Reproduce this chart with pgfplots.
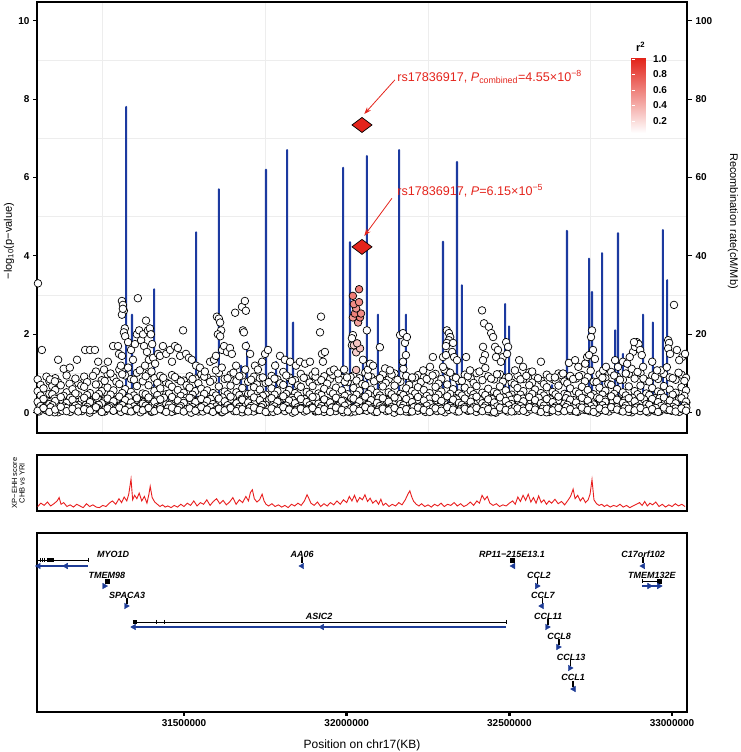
\documentclass[border=0pt]{standalone}
\usepackage{fontspec}
\setmainfont{Liberation Sans}
\usepackage{pgfplots}
\usepackage{pgfplotstable}
\pgfplotsset{compat=1.18}
\usetikzlibrary{arrows.meta}
\newcommand\fs[1]{\fontsize{#1}{#1}\selectfont}
\definecolor{recblue}{RGB}{28,58,160}
\definecolor{snpred}{RGB}{228,36,28}
\definecolor{xpred}{RGB}{232,30,30}
\definecolor{geneblue}{RGB}{30,60,150}

\pgfplotstableread{
x a b c d
31050 0.05 0.28 0.55 0.85
31068 0.12 0.35 0.62 nan
31086 0.02 0.22 0.48 0.80
31104 0.08 0.30 0.58 0.88
31121 0.15 0.40 0.70 nan
31139 0.04 0.25 0.52 0.95
31157 0.10 0.33 0.60 nan
31175 0.03 0.20 0.45 0.75
31193 0.09 0.38 0.66 0.92
31211 0.06 0.27 0.50 nan
31229 0.14 0.42 0.72 1.05
31247 0.02 0.24 0.55 0.83
31265 0.11 0.36 0.64 0.98
31283 0.05 0.29 0.57 0.90
31301 0.13 0.41 0.73 1.10
31319 0.07 0.32 0.60 0.95
31337 0.03 0.26 0.53 0.86
31355 0.10 0.37 0.68 1.02
31373 0.06 0.23 0.49 0.80
31391 0.12 0.39 0.70 1.00
31409 0.04 0.28 0.56 0.88
31427 0.09 0.34 0.62 0.94
31445 0.02 0.21 0.47 0.77
31463 0.13 0.40 0.66 0.96
31481 0.07 0.31 0.58 0.85
31499 0.03 0.25 0.51 0.82
31517 0.11 0.38 0.64 0.93
31535 0.05 0.27 0.55 0.87
31553 0.14 0.35 0.61 0.98
31571 0.08 0.30 0.57 0.90
31589 0.02 0.22 0.50 0.84
31607 0.10 0.36 0.67 1.01
31625 0.06 0.29 0.54 0.86
31643 0.12 0.41 0.69 0.97
31661 0.04 0.24 0.52 0.81
31679 0.09 0.33 0.63 0.95
31697 0.03 0.26 0.48 0.79
31715 0.13 0.39 0.65 0.92
31733 0.07 0.32 0.59 0.88
31751 0.02 0.20 0.46 0.76
31769 0.11 0.37 0.62 0.94
31787 0.05 0.28 0.55 0.85
31805 0.14 0.42 0.71 1.04
31823 0.08 0.31 0.58 0.90
31841 0.03 0.24 0.50 0.83
31859 0.10 0.35 0.66 0.99
31877 0.06 0.27 0.53 0.87
31895 0.12 0.40 0.68 0.96
31913 0.04 0.23 0.49 0.80
31931 0.09 0.34 0.61 0.93
31949 0.02 0.26 0.54 0.86
31967 0.13 0.38 0.64 0.97
31985 0.07 0.30 0.57 0.89
32003 0.03 0.21 0.47 0.78
32021 0.11 0.36 0.63 0.95
32039 0.05 0.29 0.56 0.88
32057 0.14 0.41 0.70 1.02
32075 0.08 0.32 0.59 0.91
32093 0.02 0.25 0.51 0.84
32111 0.10 0.37 0.67 0.98
32129 0.06 0.28 0.52 0.85
32147 0.12 0.39 0.69 1.00
32165 0.04 0.22 0.48 0.79
32183 0.09 0.35 0.62 0.94
32201 0.03 0.27 0.55 0.87
32219 0.13 0.40 0.65 0.96
32237 0.07 0.31 0.58 0.90
32255 0.02 0.23 0.50 0.82
32273 0.11 0.38 0.66 0.99
32291 0.05 0.30 0.54 0.86
32309 0.14 0.42 0.72 1.05
32327 0.08 0.33 0.60 0.92
32345 0.03 0.25 0.49 0.81
32363 0.10 0.36 0.64 0.97
32381 0.06 0.28 0.56 0.88
32399 0.12 0.41 0.68 1.01
32417 0.04 0.24 0.51 0.83
32435 0.09 0.34 0.61 0.93
32453 0.02 0.26 0.53 0.85
32471 0.13 0.39 0.67 0.98
32489 0.07 0.30 0.57 0.89
32507 0.03 0.22 0.46 0.77
32525 0.11 0.37 0.63 0.95
32543 0.05 0.29 0.55 0.86
32561 0.14 0.40 0.70 1.03
32579 0.08 0.32 0.59 0.90
32597 0.02 0.24 0.50 0.82
32615 0.10 0.35 0.65 0.97
32633 0.06 0.27 0.53 0.86
32651 0.12 0.41 0.69 1.00
32669 0.04 0.23 0.48 0.80
32687 0.09 0.33 0.62 0.94
32705 0.03 0.26 0.54 0.87
32723 0.13 0.38 0.66 0.96
32741 0.07 0.31 0.58 0.91
32759 0.02 0.21 0.47 0.79
32777 0.11 0.36 0.64 0.98
32795 0.05 0.28 0.56 0.88
32813 0.14 0.42 0.71 1.04
32831 0.08 0.33 0.60 0.92
32849 0.03 0.25 0.52 0.84
32867 0.10 0.37 0.67 0.99
32885 0.06 0.29 0.55 0.87
32903 0.12 0.40 0.69 1.01
32921 0.04 0.22 0.49 0.81
32939 0.09 0.35 0.63 0.95
32957 0.02 0.27 0.54 0.86
32975 0.13 0.39 0.68 0.99
32993 0.07 0.31 0.59 0.90
33011 0.03 0.24 0.51 0.84
33029 0.11 0.37 0.65 0.97
33043 0.05 0.28 0.57 0.89
}\baseband

\pgfplotstableread{
x e f g
31059 0.17 0.44 0.71
31077 0.06 0.31 0.92
31095 0.19 0.47 0.68
31113 0.01 0.36 0.77
31130 0.16 0.43 1.12
31148 0.07 0.34 0.74
31166 0.18 0.49 0.87
31184 0.05 0.30 0.69
31202 0.15 0.45 0.78
31220 0.09 0.33 0.94
31238 0.20 0.48 0.72
31256 0.03 0.35 0.81
31274 0.17 0.46 1.00
31292 0.08 0.32 0.79
31310 0.19 0.50 0.98
31328 0.04 0.37 1.15
31346 0.16 0.44 0.84
31364 0.07 0.31 1.08
31382 0.18 0.47 0.93
31400 0.02 0.34 1.05
31418 0.15 0.45 0.76
31436 0.08 0.36 0.89
31454 0.20 0.49 0.73
31472 0.05 0.33 0.91
31490 0.17 0.43 0.80
31508 0.09 0.38 0.70
31526 0.14 0.46 0.86
31544 0.03 0.32 0.75
31562 0.18 0.48 0.92
31580 0.06 0.35 0.79
31598 0.16 0.44 1.08
31616 0.01 0.30 1.15
31634 0.19 0.47 0.88
31652 0.08 0.37 1.02
31670 0.15 0.45 0.93
31688 0.04 0.33 1.10
31706 0.17 0.49 0.84
31724 0.07 0.36 0.72
31742 0.20 0.43 0.90
31760 0.02 0.31 0.78
31778 0.16 0.46 0.87
31796 0.09 0.34 0.75
31814 0.18 0.48 0.95
31832 0.05 0.38 0.81
31850 0.14 0.44 0.70
31868 0.08 0.32 0.89
31886 0.19 0.47 0.77
31904 0.03 0.35 0.92
31922 0.17 0.45 0.83
31940 0.06 0.30 0.74
31958 0.15 0.49 0.96
31976 0.09 0.36 0.85
31994 0.18 0.43 0.79
32012 0.01 0.33 0.91
32030 0.16 0.46 0.82
32048 0.07 0.37 0.73
32066 0.20 0.48 0.94
32084 0.04 0.31 0.80
32102 0.17 0.44 0.88
32120 0.08 0.34 0.76
32138 0.15 0.47 0.97
32156 0.05 0.38 0.84
32174 0.19 0.45 1.12
32192 0.02 0.32 0.71
32210 0.16 0.49 0.90
32228 0.09 0.35 0.78
32246 0.18 0.43 0.86
32264 0.06 0.36 0.95
32282 0.14 0.46 0.74
32300 0.03 0.30 1.10
32318 0.17 0.48 1.02
32336 0.08 0.37 0.89
32354 0.20 0.44 0.81
32372 0.05 0.33 0.93
32390 0.15 0.47 0.76
32408 0.07 0.34 1.05
32426 0.18 0.45 1.14
32444 0.01 0.38 0.87
32462 0.16 0.49 0.98
32480 0.09 0.31 0.79
32498 0.19 0.43 0.91
32516 0.04 0.36 0.72
32534 0.17 0.46 0.85
32552 0.06 0.32 0.94
32570 0.15 0.48 0.77
32588 0.08 0.35 0.88
32606 0.18 0.44 0.73
32624 0.02 0.37 0.90
32642 0.16 0.47 0.82
32660 0.09 0.33 0.96
32678 0.20 0.45 0.75
32696 0.05 0.30 0.86
32714 0.14 0.49 0.93
32732 0.07 0.36 0.80
32750 0.17 0.43 1.07
32768 0.03 0.34 0.78
32786 0.19 0.46 0.89
32804 0.08 0.38 0.74
32822 0.15 0.48 0.95
32840 0.06 0.31 0.84
32858 0.18 0.44 1.00
32876 0.01 0.35 1.12
32894 0.16 0.47 1.04
32912 0.09 0.32 0.87
32930 0.20 0.45 0.79
32948 0.04 0.37 0.92
32966 0.17 0.49 1.08
32984 0.07 0.33 1.16
33002 0.15 0.46 0.88
33020 0.05 0.36 1.02
33038 0.18 0.43 0.81
}\basebandb

\pgfplotstableread{
x h i
31054 0.03 0.21
31066 0.11 0.33
31078 0.06 0.17
31090 0.14 0.28
31102 0.01 0.36
31114 0.09 0.19
31126 0.05 0.31
31138 0.12 0.24
31150 0.02 0.38
31162 0.08 0.15
31174 0.13 0.27
31186 0.04 0.34
31198 0.10 0.20
31210 0.00 0.30
31222 0.07 0.16
31234 0.12 0.37
31246 0.03 0.23
31258 0.09 0.32
31270 0.14 0.18
31282 0.05 0.29
31294 0.11 0.35
31306 0.02 0.14
31318 0.08 0.26
31330 0.13 0.39
31342 0.04 0.21
31354 0.10 0.33
31366 0.01 0.17
31378 0.07 0.28
31390 0.12 0.36
31402 0.03 0.19
31414 0.09 0.31
31426 0.14 0.24
31438 0.05 0.38
31450 0.11 0.15
31462 0.02 0.27
31474 0.08 0.34
31486 0.13 0.20
31498 0.04 0.30
31510 0.10 0.16
31522 0.00 0.37
31534 0.07 0.23
31546 0.12 0.32
31558 0.03 0.18
31570 0.09 0.29
31582 0.14 0.35
31594 0.05 0.14
31606 0.11 0.26
31618 0.02 0.39
31630 0.08 0.21
31642 0.13 0.33
31654 0.04 0.17
31666 0.10 0.28
31678 0.01 0.36
31690 0.07 0.19
31702 0.12 0.31
31714 0.03 0.24
31726 0.09 0.38
31738 0.14 0.15
31750 0.05 0.27
31762 0.11 0.34
31774 0.02 0.20
31786 0.08 0.30
31798 0.13 0.16
31810 0.04 0.37
31822 0.10 0.23
31834 0.00 0.32
31846 0.07 0.18
31858 0.12 0.29
31870 0.03 0.35
31882 0.09 0.14
31894 0.14 0.26
31906 0.05 0.39
31918 0.11 0.21
31930 0.02 0.33
31942 0.08 0.17
31954 0.13 0.28
31966 0.04 0.36
31978 0.10 0.19
31990 0.01 0.31
32002 0.07 0.24
32014 0.12 0.38
32026 0.03 0.15
32038 0.09 0.27
32050 0.14 0.34
32062 0.05 0.20
32074 0.11 0.30
32086 0.02 0.16
32098 0.08 0.37
32110 0.13 0.23
32122 0.04 0.32
32134 0.10 0.18
32146 0.00 0.29
32158 0.07 0.35
32170 0.12 0.14
32182 0.03 0.26
32194 0.09 0.39
32206 0.14 0.21
32218 0.05 0.33
32230 0.11 0.17
32242 0.02 0.28
32254 0.08 0.36
32266 0.13 0.19
32278 0.04 0.31
32290 0.10 0.24
32302 0.01 0.38
32314 0.07 0.15
32326 0.12 0.27
32338 0.03 0.34
32350 0.09 0.20
32362 0.14 0.30
32374 0.05 0.16
32386 0.11 0.37
32398 0.02 0.23
32410 0.08 0.32
32422 0.13 0.18
32434 0.04 0.29
32446 0.10 0.35
32458 0.00 0.14
32470 0.07 0.26
32482 0.12 0.39
32494 0.03 0.21
32506 0.09 0.33
32518 0.14 0.17
32530 0.05 0.28
32542 0.11 0.36
32554 0.02 0.19
32566 0.08 0.31
32578 0.13 0.24
32590 0.04 0.38
32602 0.10 0.15
32614 0.01 0.27
32626 0.07 0.34
32638 0.12 0.20
32650 0.03 0.30
32662 0.09 0.16
32674 0.14 0.37
32686 0.05 0.23
32698 0.11 0.32
32710 0.02 0.18
32722 0.08 0.29
32734 0.13 0.35
32746 0.04 0.14
32758 0.10 0.26
32770 0.00 0.39
32782 0.07 0.21
32794 0.12 0.33
32806 0.03 0.17
32818 0.09 0.28
32830 0.14 0.36
32842 0.05 0.19
32854 0.11 0.31
32866 0.02 0.24
32878 0.08 0.38
32890 0.13 0.15
32902 0.04 0.27
32914 0.10 0.34
32926 0.01 0.20
32938 0.07 0.30
32950 0.12 0.16
32962 0.03 0.37
32974 0.09 0.23
32986 0.14 0.32
32998 0.05 0.18
33010 0.11 0.29
33022 0.02 0.35
33034 0.08 0.14
33044 0.13 0.26
}\basebandc

\pgfplotstableread{
x y
31051 3.30
31063 1.60
31088 0.85
31103 0.80
31113 1.35
31149 1.15
31171 1.35
31196 1.60
31211 1.60
31226 1.60
31236 1.30
31254 1.10
31266 1.30
31282 1.70
31297 1.70
31300 1.50
31306 1.20
31309 2.85
31312 2.75
31315 2.60
31309 2.50
31312 2.65
31318 2.15
31315 2.05
31319 1.95
31309 1.45
31328 1.80
31337 1.60
31343 1.35
31358 2.92
31349 1.75
31355 2.00
31362 2.10
31368 1.85
31374 2.00
31377 1.70
31383 2.35
31389 2.10
31395 2.15
31398 2.00
31402 1.75
31386 1.55
31392 1.35
31380 1.20
31405 1.40
31411 1.25
31420 1.50
31426 1.45
31435 1.70
31445 1.50
31457 1.60
31463 1.30
31472 1.70
31481 1.65
31488 1.45
31497 2.10
31506 1.50
31515 1.40
31524 1.35
31537 1.20
31549 1.15
31564 1.05
31580 1.30
31592 1.35
31598 1.45
31601 2.45
31607 2.40
31611 2.30
31614 2.10
31604 2.00
31611 1.95
31617 1.60
31623 1.70
31632 1.55
31641 1.65
31647 1.50
31660 1.20
31657 2.55
31678 2.70
31687 2.85
31690 2.60
31681 2.10
31684 2.05
31690 1.70
31703 1.50
31718 1.20
31727 1.10
31740 1.30
31749 1.50
31758 1.60
31780 1.20
31795 1.45
31810 1.35
31826 1.30
31844 1.20
31856 1.30
31872 1.25
31887 1.30
31903 1.05
31918 2.05
31921 2.45
31924 1.50
31933 1.55
31927 1.30
31949 1.05
31961 1.10
31973 1.00
31992 1.10
32001 0.90
32016 1.72
32019 1.98
32016 1.90
32062 2.10
32050 1.35
32065 1.10
32072 1.25
32102 1.67
32081 1.20
32118 1.13
32133 1.08
32164 1.98
32173 2.03
32179 1.78
32182 1.47
32173 1.30
32185 1.93
32201 0.90
32235 1.08
32256 1.17
32265 1.42
32296 1.42
32296 1.17
32308 2.10
32314 2.03
32318 1.93
32314 1.85
32308 1.78
32305 1.70
32324 1.55
32305 1.47
32327 1.78
32330 1.42
32339 1.34
32367 1.42
32379 1.08
32416 2.61
32422 2.28
32437 2.19
32444 2.03
32450 1.93
32419 1.68
32425 1.47
32419 1.34
32456 1.68
32465 1.60
32480 1.42
32459 1.42
32474 1.30
32490 1.80
32496 1.68
32493 1.50
32517 1.08
32530 1.34
32542 1.17
32597 1.30
32570 1.05
32640 0.90
32665 1.00
32683 1.27
32702 1.34
32712 1.17
32739 1.42
32733 1.25
32754 2.10
32751 1.93
32757 1.60
32745 1.47
32763 1.37
32788 1.08
32797 1.17
32825 1.34
32834 1.17
32849 1.30
32880 1.55
32886 1.68
32892 1.80
32897 1.75
32870 1.42
32902 1.60
32907 1.47
32862 1.25
32883 1.80
32911 1.17
32939 1.30
32954 1.08
32988 1.85
32991 1.78
32988 1.64
32994 1.50
33006 2.75
33015 1.60
33031 1.42
33040 1.50
33022 1.34
}\extras

\pgfplotstableread{
x y r
32029 1.09 0.30
32029 1.54 0.25
32041 1.64 0.30
32022 1.72 0.25
32032 1.77 0.30
32035 2.30 0.45
32019 2.43 0.50
32041 2.43 0.60
32025 2.53 0.60
32044 2.53 0.55
32029 2.66 0.50
32022 2.77 0.55
32038 2.82 0.55
32019 2.98 0.62
32038 3.15 0.62
}\ldsnps

\pgfplotstableread{
x y
31048 3
31100 2
31200 4
31300 3
31322 2
31322 78
31322 2
31340 3
31340 25
31340 3
31408 4
31408 31.5
31408 4
31537 3
31537 46
31537 3
31607 2
31607 57
31607 2
31675 3
31675 12
31675 3
31694 2
31694 18
31694 2
31752 3
31752 62
31752 3
31783 2
31783 13
31783 2
31817 3
31817 67
31817 3
31835 2
31835 23
31835 2
31989 3
31989 62.5
31989 3
32010 2
32010 43.5
32010 2
32050 3
32050 13.5
32050 3
32062 2
32062 65.5
32062 2
32096 3
32096 25
32096 3
32161 2
32161 67
32161 2
32182 3
32182 25
32182 3
32296 2
32296 43.6
32296 2
32318 3
32318 10
32318 3
32339 2
32339 64
32339 2
32354 3
32354 32.5
32354 3
32487 2
32487 27.7
32487 2
32499 3
32499 22
32499 3
32631 2
32631 7
32631 2
32677 3
32677 46.4
32677 3
32745 2
32745 39.3
32745 2
32754 3
32754 30.8
32754 3
32785 2
32785 40.7
32785 2
32825 3
32825 21
32825 3
32834 2
32834 45.8
32834 2
32849 3
32849 15
32849 3
32911 2
32911 25
32911 2
32941 3
32941 23
32941 3
32972 2
32972 46.6
32972 2
32985 3
32985 33.8
32985 3
33046 2
}\recomb

\pgfplotstableread{
x y
31050 0.08
31060 0.14
31070 0.10
31080 0.16
31090 0.09
31100 0.13
31110 0.18
31116 0.24
31122 0.12
31130 0.15
31140 0.08
31150 0.11
31160 0.07
31170 0.12
31180 0.09
31190 0.06
31200 0.13
31210 0.08
31220 0.11
31230 0.07
31240 0.06
31250 0.10
31260 0.08
31270 0.14
31280 0.18
31290 0.12
31300 0.22
31308 0.15
31316 0.25
31324 0.18
31330 0.30
31337 0.57
31342 0.20
31348 0.28
31355 0.22
31362 0.32
31370 0.18
31378 0.26
31386 0.14
31392 0.30
31396 0.44
31402 0.24
31410 0.16
31418 0.12
31426 0.08
31434 0.11
31442 0.07
31450 0.09
31460 0.06
31470 0.10
31480 0.07
31490 0.12
31500 0.08
31510 0.14
31520 0.10
31530 0.18
31540 0.09
31550 0.15
31560 0.12
31570 0.20
31580 0.10
31590 0.17
31600 0.22
31610 0.13
31620 0.19
31630 0.11
31640 0.16
31650 0.24
31660 0.12
31670 0.20
31680 0.15
31690 0.26
31698 0.18
31704 0.33
31710 0.38
31716 0.22
31724 0.16
31732 0.20
31740 0.30
31746 0.18
31752 0.12
31760 0.09
31770 0.13
31780 0.08
31790 0.11
31800 0.07
31810 0.10
31820 0.06
31830 0.12
31840 0.09
31850 0.14
31860 0.10
31870 0.18
31878 0.29
31884 0.22
31890 0.14
31900 0.10
31910 0.16
31920 0.08
31930 0.13
31940 0.09
31950 0.15
31960 0.11
31970 0.18
31980 0.12
31990 0.20
32000 0.15
32008 0.26
32016 0.18
32024 0.28
32032 0.16
32040 0.24
32048 0.20
32056 0.29
32064 0.17
32072 0.23
32080 0.14
32090 0.19
32098 0.12
32105 0.21
32112 0.10
32120 0.14
32130 0.08
32140 0.12
32150 0.09
32160 0.15
32170 0.11
32180 0.20
32188 0.30
32194 0.36
32200 0.25
32206 0.17
32214 0.12
32222 0.09
32230 0.13
32240 0.08
32250 0.11
32260 0.07
32270 0.12
32280 0.09
32290 0.14
32300 0.08
32310 0.12
32320 0.10
32330 0.15
32340 0.09
32350 0.13
32360 0.08
32370 0.11
32380 0.16
32390 0.10
32400 0.18
32408 0.14
32416 0.28
32424 0.20
32432 0.26
32440 0.14
32450 0.10
32460 0.13
32470 0.08
32480 0.11
32490 0.09
32500 0.14
32510 0.18
32518 0.12
32526 0.25
32534 0.17
32542 0.28
32550 0.19
32558 0.30
32566 0.16
32574 0.24
32582 0.14
32590 0.27
32598 0.15
32606 0.20
32614 0.12
32622 0.18
32630 0.14
32640 0.21
32650 0.13
32660 0.17
32670 0.11
32680 0.19
32688 0.26
32696 0.39
32702 0.22
32710 0.28
32718 0.18
32726 0.24
32734 0.15
32742 0.20
32748 0.30
32754 0.56
32760 0.20
32768 0.13
32776 0.10
32784 0.12
32792 0.08
32800 0.11
32810 0.07
32820 0.10
32830 0.08
32840 0.12
32850 0.07
32860 0.10
32870 0.06
32880 0.09
32890 0.12
32900 0.15
32908 0.10
32916 0.17
32924 0.09
32932 0.14
32940 0.11
32950 0.16
32960 0.08
32970 0.12
32980 0.07
32990 0.11
33000 0.08
33010 0.13
33020 0.09
33030 0.12
33040 0.08
}\xpehh

\pgfplotsset{
  scaled ticks=false,
  wcirc/.style={only marks, mark=*, mark size=3.8pt, mark options={draw=black, fill=white, line width=0.7pt}},
  blk/.style={black, line width=0.9pt},
  blu/.style={geneblue, line width=1.1pt},
  arR/.style={only marks, mark=triangle*, mark size=3.2pt, mark options={rotate=-90, fill=geneblue, draw=geneblue}},
  arL/.style={only marks, mark=triangle*, mark size=3.2pt, mark options={rotate=90, fill=geneblue, draw=geneblue}},
  tk/.style={only marks, mark=|, mark size=2.6pt, mark options={black, line width=1.4pt}},
  bx/.style={only marks, mark=square*, mark size=2.2pt, mark options={black, fill=black}},
}

\begin{document}
\begin{tikzpicture}
\path[use as bounding box] (0pt,0pt) rectangle (741pt,-752pt);

% faint grid
\begin{axis}[at={(37pt,-433pt)}, anchor=south west, scale only axis, width=650pt, height=431pt,
  xmin=31048, xmax=33046, ymin=-0.518, ymax=10.477,
  axis line style={draw=none}, xtick={31250,31750,32250,32750}, ytick={1,3,5,7,9},
  xticklabels={}, yticklabels={}, major tick length=0pt, grid=major,
  grid style={black!7, line width=0.6pt}]
\addplot[draw=none] coordinates {(31500,0)};
\end{axis}

% recombination rate
\begin{axis}[at={(37pt,-433pt)}, anchor=south west, scale only axis, width=650pt, height=431pt,
  xmin=31048, xmax=33046, ymin=-5.18, ymax=104.77,
  axis y line*=right, axis x line=none, xtick=\empty, ytick={0,20,...,100},
  tick align=outside, major tick length=5pt, axis line style={line width=1.3pt},
  tick style={black, line width=1pt}, yticklabel style={font=\bfseries\fs{10}},
  /pgf/number format/assume math mode=true]
\addplot[recblue, line width=2.1pt, line join=round, line cap=round] table[x=x,y=y] {\recomb};
\end{axis}

% association
\begin{axis}[name=main, at={(37pt,-433pt)}, anchor=south west, scale only axis, width=650pt, height=431pt,
  xmin=31048, xmax=33046, ymin=-0.518, ymax=10.477,
  xtick=\empty, ytick={0,2,...,10}, ytick pos=left, tick align=outside, major tick length=4pt,
  axis line style={line width=1.3pt}, tick style={black, line width=1pt},
  yticklabel style={font=\bfseries\fs{10}}, /pgf/number format/assume math mode=true,
  colormap={wr}{rgb255=(255,255,255) rgb255=(226,32,22)},
  point meta min=0.045, point meta max=1.026,
  colorbar,
  colorbar style={at={(parent axis.north west)}, anchor=north west, xshift=586pt, yshift=-55pt,
    scale only axis, width=18pt, height=76pt,
    ytick={0.2,0.4,0.6,0.8,1.0}, yticklabel pos=right,
    yticklabel style={font=\bfseries\fs{10}, /pgf/number format/.cd, fixed, fixed zerofill, precision=1, assume math mode=true},
    major tick length=3pt, tick align=inside, tick style={white, line width=0.6pt},
    axis line style={draw=none},
    title={\bfseries r\textsuperscript{2}}, title style={font=\fs{11}, yshift=-4pt}}]
\addplot[wcirc] table[x=x,y=d] {\baseband};
\addplot[wcirc] table[x=x,y=g] {\basebandb};
\addplot[wcirc] table[x=x,y=c] {\baseband};
\addplot[wcirc] table[x=x,y=f] {\basebandb};
\addplot[wcirc] table[x=x,y=i] {\basebandc};
\addplot[wcirc] table[x=x,y=b] {\baseband};
\addplot[wcirc] table[x=x,y=e] {\basebandb};
\addplot[wcirc] table[x=x,y=h] {\basebandc};
\addplot[wcirc] table[x=x,y=a] {\baseband};
\addplot[wcirc] table[x=x,y=y] {\extras};
\addplot[scatter, only marks, mark=*, mark size=3.8pt, scatter src=explicit,
  mark options={line width=0.7pt}, scatter/use mapped color={draw=black, fill=mapped color}]
  table[x=x,y=y,meta=r] {\ldsnps};
\addplot[only marks, mark=diamond*, mark size=10pt,
  mark options={rotate=90, fill=snpred, draw=black, line width=0.7pt}]
  coordinates {(32047,7.34) (32047,4.23)};
\draw[snpred, line width=0.8pt, -{Stealth[length=7pt,width=5pt]}] (axis cs:32148,8.49) -- (axis cs:32054,7.62);
\draw[snpred, line width=0.8pt, -{Stealth[length=7pt,width=5pt]}] (axis cs:32139,5.47) -- (axis cs:32054,4.51);
\node[anchor=west, text=snpred, font=\fs{12.6}, inner sep=0pt] at (axis cs:32155,8.56)
  {rs17836917, \textit{P}\textsubscript{combined}=4.55×10\textsuperscript{−8}};
\node[anchor=west, text=snpred, font=\fs{12.6}, inner sep=0pt] at (axis cs:32155,5.66)
  {rs17836917, \textit{P}=6.15×10\textsuperscript{−5}};
\end{axis}

% XP-EHH
\begin{axis}[at={(37pt,-511pt)}, anchor=south west, scale only axis, width=650pt, height=56pt,
  xmin=31048, xmax=33046, ymin=0, ymax=1, xtick=\empty, ytick=\empty,
  axis line style={line width=1.3pt}]
\addplot[xpred, line width=0.9pt] table[x=x,y=y] {\xpehh};
\end{axis}

% genes
\begin{axis}[at={(37pt,-712pt)}, anchor=south west, scale only axis, width=650pt, height=179pt,
  xmin=31048, xmax=33046, ymin=0, ymax=179, ytick=\empty,
  xtick={31500,32000,32500,33000}, xticklabels={31500000,32000000,32500000,33000000},
  xtick pos=bottom, tick align=outside, major tick length=3.5pt,
  tick style={black, line width=2.5pt}, xticklabel style={font=\bfseries\fs{10}},
  axis line style={line width=1.3pt},
  nodes={font=\bfseries\itshape\fs{9}}]
% MYO1D
\addplot[blk] coordinates {(31048,152) (31205,152)};
\addplot[tk, mark size=2.2pt, mark options={line width=0.8pt}] coordinates {(31057,152) (31064,152) (31071,152) (31205,152)};
\addplot[black, line width=3.5pt] coordinates {(31078,152) (31100,152)};
\addplot[blu] coordinates {(31048,146) (31205,146)};
\addplot[arL] coordinates {(31053,146) (31137,146)};
% TMEM98
\addplot[bx] coordinates {(31263,131)};
\addplot[arR] coordinates {(31255,126)};
% SPACA3
\addplot[tk] coordinates {(31325,111)};
\addplot[arR] coordinates {(31322,106)};
% ASIC2
\addplot[blk] coordinates {(31343,90) (32490,90)};
\addplot[black, line width=4pt] coordinates {(31343,90) (31355,90)};
\addplot[tk, mark size=2.2pt, mark options={line width=0.8pt}] coordinates {(31414,90) (31441,90) (32490,90)};
\addplot[blu] coordinates {(31343,85) (32490,85)};
\addplot[arL] coordinates {(31346,85) (31924,85)};
% AA06
\addplot[tk] coordinates {(31863,152)};
\addplot[arL] coordinates {(31863,146)};
% RP11-215E13.1
\addplot[bx] coordinates {(32508,152)};
\addplot[arL] coordinates {(32512,146)};
% C17orf102
\addplot[tk] coordinates {(32911,152)};
\addplot[arL] coordinates {(32911,146)};
% TMEM132E
\addplot[blk] coordinates {(32908,131) (32963,131)};
\addplot[tk, mark size=2.2pt, mark options={line width=0.8pt}] coordinates {(32908,131)};
\addplot[bx] coordinates {(32960,131)};
\addplot[blu] coordinates {(32908,126) (32963,126)};
\addplot[arR] coordinates {(32930,126) (32960,126)};
% CCL genes
\addplot[tk] coordinates {(32587,131) (32602,111) (32619,90) (32653,70) (32688,49) (32696,28)};
\addplot[arR] coordinates {(32585,126) (32616,85) (32650,65) (32686,44)};
\addplot[arL] coordinates {(32600,106) (32698,23)};
% labels
\node at (axis cs:31282,158) {MYO1D};
\node at (axis cs:31863,158) {AA06};
\node at (axis cs:32508,158) {RP11−215E13.1};
\node at (axis cs:32911,158) {C17orf102};
\node at (axis cs:31263,137) {TMEM98};
\node at (axis cs:32591,137) {CCL2};
\node at (axis cs:32938,137) {TMEM132E};
\node at (axis cs:31325,117) {SPACA3};
\node at (axis cs:32603,117) {CCL7};
\node at (axis cs:31915,96) {ASIC2};
\node at (axis cs:32619,96) {CCL11};
\node at (axis cs:32653,76) {CCL8};
\node at (axis cs:32690,55) {CCL13};
\node at (axis cs:32696,35) {CCL1};
\end{axis}

\node[rotate=90, font=\fs{11}] at (9pt,-241pt) {−log\textsubscript{10}(p−value)};
\node[rotate=-90, font=\fs{11}] at (733pt,-221pt) {Recombination rate(cM/Mb)};
\node[rotate=90, align=center, font=\fs{7.5}, anchor=south, inner sep=1pt] at (26pt,-483pt) {XP−EHH score\\CHB vs YRI};
\node[font=\fs{12}] at (362pt,-745pt) {Position on chr17(KB)};
\end{tikzpicture}
\end{document}
